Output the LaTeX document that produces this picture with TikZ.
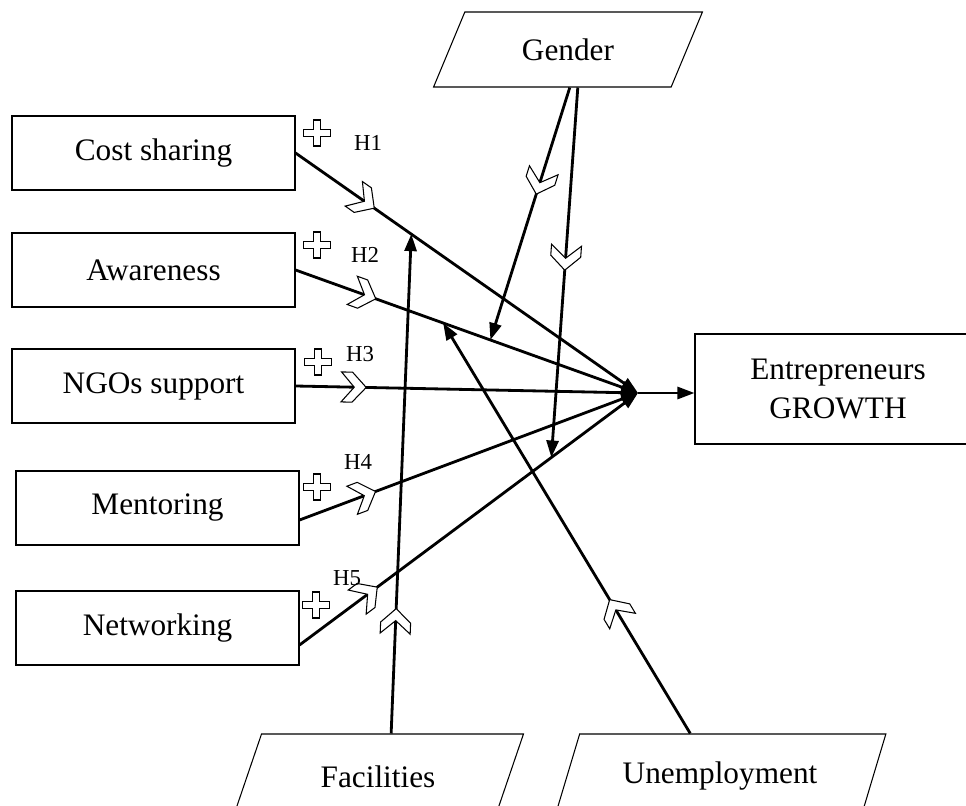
\documentclass[tikz,border=0pt]{standalone}
\usepackage{fontspec}
\setmainfont{Liberation Serif}
\usetikzlibrary{positioning,shapes.geometric,arrows.meta,calc}
\tikzstyle{box}=[draw, line width=0.6pt, minimum width=5.66cm, minimum height=1.48cm, font=\fontsize{17.8}{22.2}\selectfont]
\tikzstyle{para}=[draw, line width=0.6pt, trapezium, trapezium left angle=65, trapezium right angle=115, trapezium stretches=true, minimum height=1.5cm, font=\fontsize{17.8}{22.2}\selectfont]
\tikzstyle{hyp}=[font=\fontsize{13}{15}\selectfont]
\tikzstyle{link}=[line width=1.6pt, -{Triangle[length=0.34cm,width=0.24cm]}]
\tikzset{
  chev/.pic={\draw[-, line width=0.6pt, fill=white] (0.25,0) -- (-0.03,0.3) -- (-0.25,0.3) -- (0.01,0) -- (-0.25,-0.3) -- (-0.03,-0.3) -- cycle;},
  plusmark/.pic={\draw[-, line width=0.6pt] (-0.07,0.26) -- (0.07,0.26) -- (0.07,0.07) -- (0.27,0.07) -- (0.27,-0.07) -- (0.07,-0.07) -- (0.07,-0.26) -- (-0.07,-0.26) -- (-0.07,-0.07) -- (-0.27,-0.07) -- (-0.27,0.07) -- (-0.07,0.07) -- cycle;}
}
\begin{document}
\begin{tikzpicture}
\useasboundingbox (0,0) rectangle (19.32,-16.12);

% predictors
\node[box] at (3.07,-3.06) (cost) {Cost sharing};
\node[box, below of = cost, node distance = 2.34cm] (aware) {Awareness};
\node[box, below of = aware, node distance = 2.32cm] (ngo) {NGOs support};
\node[box, below of = ngo, node distance = 2.44cm, xshift = 0.08cm] (ment) {Mentoring};
\node[box, below of = ment, node distance = 2.40cm] (netw) {Networking};

% outcome
\node[box, minimum width=5.72cm, minimum height=2.2cm, align=center] at (16.76,-7.78) (grow) {Entrepreneurs\\GROWTH};
\coordinate (hub) at (12.76,-7.86);

% moderators
\node[para, minimum width=5.42cm] at (11.36,-0.99) (gender) {Gender};
\node[para, minimum width=5.84cm, minimum height=1.7cm] at (7.56,-15.53) (facil) {Facilities};
\node[para, minimum width=6.64cm, minimum height=1.7cm] at (14.40,-15.53) (unemp) {Unemployment};

% hypotheses
\draw[link] (cost.east) -- (hub) pic[pos=0.2, sloped, allow upside down]{chev};
\draw[link] (aware.east) -- (hub) pic[pos=0.2, sloped, allow upside down]{chev};
\draw[link] (ngo.east) -- (hub) pic[pos=0.17, sloped, allow upside down]{chev};
\draw[link] ([yshift=-0.24cm]ment.east) -- (hub) pic[pos=0.19, sloped, allow upside down]{chev};
\draw[link] ([yshift=-0.34cm]netw.east) -- (hub) pic[pos=0.2, sloped, allow upside down]{chev};
\draw[link] (hub) -- (hub -| grow.west);

\pic at (6.34,-2.66) {plusmark};
\node[hyp] at (7.36,-2.86) (h1) {H1};
\pic at (6.34,-4.90) {plusmark};
\node[hyp] at (7.30,-5.10) (h2) {H2};
\pic at (6.36,-7.24) {plusmark};
\node[hyp] at (7.20,-7.08) (h3) {H3};
\pic at (6.34,-9.74) {plusmark};
\node[hyp] at (7.16,-9.24) (h4) {H4};
\pic at (6.32,-12.10) {plusmark};
\node[hyp] at (6.94,-11.56) (h5) {H5};

% moderating paths
\coordinate (g1) at ($(aware.east)!0.569!(hub)$);
\coordinate (g2) at ($([yshift=-0.34cm]netw.east)!0.744!(hub)$);
\coordinate (f1) at ($(cost.east)!0.338!(hub)$);
\coordinate (u1) at ($(aware.east)!0.431!(hub)$);
\draw[link] ([xshift=2.74cm]gender.bottom left corner) -- (g1) pic[pos=0.375, sloped, allow upside down]{chev};
\draw[link] ([xshift=2.9cm]gender.bottom left corner) -- (g2) pic[pos=0.46, sloped, allow upside down]{chev};
\draw[link] ([xshift=2.6cm]facil.top left corner) -- (f1) pic[pos=0.225, sloped, allow upside down]{chev};
\draw[link] ([xshift=2.22cm]unemp.top left corner) -- (u1) pic[pos=0.3, sloped, allow upside down]{chev};
\end{tikzpicture}
\end{document}
